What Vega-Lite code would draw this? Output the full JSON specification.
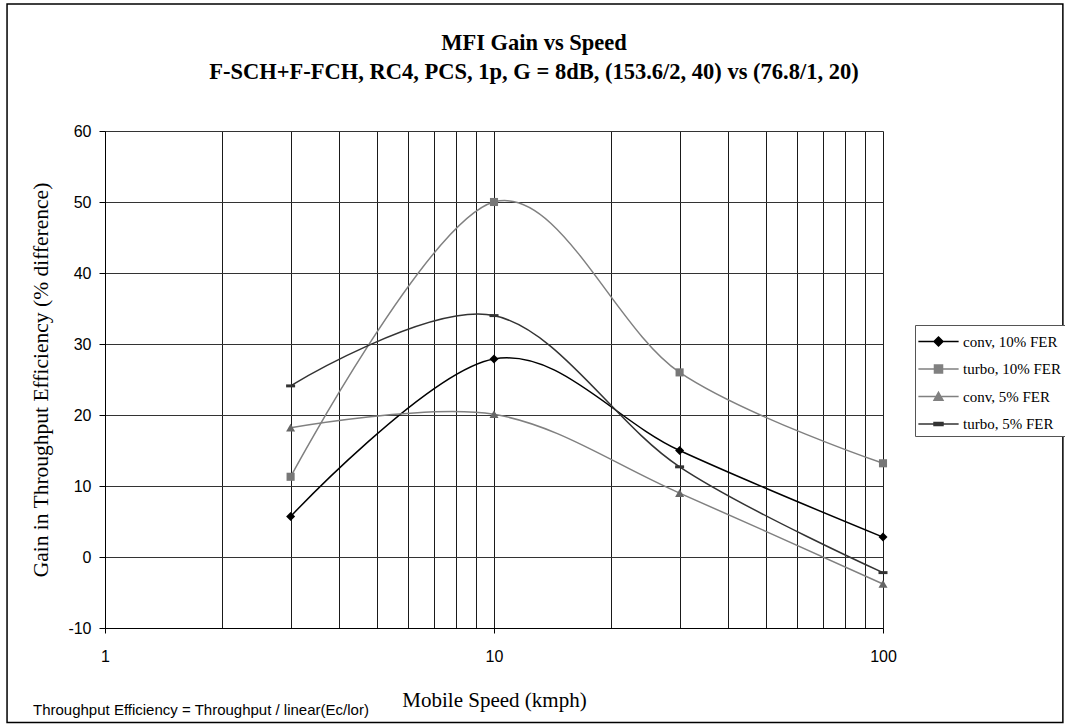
{
  "$schema": "https://vega.github.io/schema/vega-lite/v6.json",
  "width": 778,
  "height": 497,
  "autosize": "none",
  "padding": {"left": 105, "top": 131, "right": 182, "bottom": 97},
  "background": "white",
  "title": {
    "text": ["MFI Gain vs Speed", "F-SCH+F-FCH, RC4, PCS, 1p, G = 8dB, (153.6/2, 40) vs (76.8/1, 20)"],
    "font": "Liberation Serif",
    "fontSize": 22.5,
    "fontWeight": "bold",
    "color": "black",
    "anchor": "middle",
    "frame": "group",
    "dx": 40,
    "offset": -80,
    "lineHeight": 29
  },
  "config": {
    "view": {"stroke": null},
    "font": "Liberation Sans"
  },
  "datasets": {
    "curves": [
      {"speed": 3, "gain": 5.7, "series": "conv, 10% FER"},
      {"speed": 10, "gain": 27.9, "series": "conv, 10% FER"},
      {"speed": 30, "gain": 15.0, "series": "conv, 10% FER"},
      {"speed": 100, "gain": 2.8, "series": "conv, 10% FER"},
      {"speed": 3, "gain": 11.3, "series": "turbo, 10% FER"},
      {"speed": 10, "gain": 50.0, "series": "turbo, 10% FER"},
      {"speed": 30, "gain": 26.0, "series": "turbo, 10% FER"},
      {"speed": 100, "gain": 13.2, "series": "turbo, 10% FER"},
      {"speed": 3, "gain": 18.2, "series": "conv, 5% FER"},
      {"speed": 10, "gain": 20.1, "series": "conv, 5% FER"},
      {"speed": 30, "gain": 9.0, "series": "conv, 5% FER"},
      {"speed": 100, "gain": -3.8, "series": "conv, 5% FER"},
      {"speed": 3, "gain": 24.1, "series": "turbo, 5% FER"},
      {"speed": 10, "gain": 34.0, "series": "turbo, 5% FER"},
      {"speed": 30, "gain": 12.7, "series": "turbo, 5% FER"},
      {"speed": 100, "gain": -2.2, "series": "turbo, 5% FER"}
    ],
    "note": [
      {"text": "Throughput Efficiency = Throughput / linear(Ec/lor)", "x": 0.653, "y": -21.6}
    ],
    "frame": [
      {"x1": 0.56, "x2": 290, "y1": -23.3, "y2": 77.9}
    ]
  },
  "layer": [
    {
      "data": {"name": "frame"},
      "mark": {"type": "rect", "fill": null, "stroke": "black", "strokeWidth": 1.5},
      "encoding": {
        "x": {"field": "x1", "type": "quantitative"},
        "x2": {"field": "x2"},
        "y": {"field": "y1", "type": "quantitative"},
        "y2": {"field": "y2"}
      }
    },
    {
      "data": {"name": "curves"},
      "mark": {"type": "line", "interpolate": "cardinal", "tension": 0, "strokeWidth": 1.5},
      "encoding": {
        "x": {
          "field": "speed",
          "type": "quantitative",
          "scale": {"type": "log", "domain": [1, 100], "nice": false},
          "axis": {
            "values": [1, 2, 3, 4, 5, 6, 7, 8, 9, 10, 20, 30, 40, 50, 60, 70, 80, 90, 100],
            "labelExpr": "(datum.value == 1 || datum.value == 10 || datum.value == 100) ? datum.label : ''",
            "format": "d",
            "grid": true,
            "gridColor": "#1a1a1a",
            "gridOpacity": 1,
            "domainColor": "black",
            "tickColor": "black",
            "tickSize": 5,
            "tickOpacity": {"condition": {"test": "datum.value == 1 || datum.value == 10 || datum.value == 100", "value": 1}, "value": 0},
            "labelFont": "Liberation Sans",
            "labelFontSize": 16,
            "labelColor": "black",
            "labelPadding": 15,
            "labelFlush": false,
            "labelOverlap": false,
            "labelBound": false,
            "title": "Mobile Speed (kmph)",
            "titleFont": "Liberation Serif",
            "titleFontSize": 21,
            "titleFontWeight": "normal",
            "titleColor": "black",
            "titlePadding": 25
          }
        },
        "y": {
          "field": "gain",
          "type": "quantitative",
          "scale": {"domain": [-10, 60], "nice": false, "zero": false},
          "axis": {
            "values": [-10, 0, 10, 20, 30, 40, 50, 60],
            "labelExpr": "'' + datum.value",
            "grid": true,
            "gridColor": "#333333",
            "gridOpacity": 1,
            "domainColor": "black",
            "tickColor": "black",
            "tickSize": 6,
            "labelFont": "Liberation Sans",
            "labelFontSize": 16,
            "labelColor": "black",
            "labelPadding": 8,
            "labelFlush": false,
            "title": "Gain in Throughput Efficiency (% difference)",
            "titleFont": "Liberation Serif",
            "titleFontSize": 21.5,
            "titleFontWeight": "normal",
            "titleColor": "black",
            "titlePadding": 15
          }
        },
        "color": {
          "field": "series",
          "type": "nominal",
          "scale": {
            "domain": ["conv, 10% FER", "turbo, 10% FER", "conv, 5% FER", "turbo, 5% FER"],
            "range": ["#000000", "#808080", "#808080", "#333333"]
          },
          "legend": {
            "title": null,
            "orient": "none",
            "legendX": 810,
            "legendY": 194,
            "padding": 4,
            "rowPadding": 6.5,
            "symbolOffset": 7,
            "strokeColor": "#555555",
            "fillColor": "white",
            "symbolSize": 529,
            "symbolType": "stroke",
            "labelFont": "Liberation Serif",
            "labelFontSize": 15,
            "labelColor": "black",
            "labelOffset": 12,
            "encode": {
              "symbols": {
                "update": {
                  "shape": {"signal": "datum.value == 'conv, 10% FER' ? 'M-1.75,0L1.75,0M0,-0.39L0.39,0L0,0.39L-0.39,0Z' : datum.value == 'turbo, 10% FER' ? 'M-1.75,0L1.75,0M-0.35,-0.35L0.35,-0.35L0.35,0.35L-0.35,0.35Z' : datum.value == 'conv, 5% FER' ? 'M-1.75,0L1.75,0M0,-0.37L0.39,0.33L-0.39,0.33Z' : 'M-1.75,0L1.75,0M-0.39,-0.13L0.39,-0.13L0.39,0.13L-0.39,0.13Z'"},
                  "size": {"value": 529},
                  "fill": {"signal": "scale('color', datum.value)"},
                  "stroke": {"signal": "scale('color', datum.value)"},
                  "strokeWidth": {"value": 1.5},
                  "opacity": {"value": 1},
                  "fillOpacity": {"value": 1}
                }
              }
            }
          }
        }
      }
    },
    {
      "data": {"name": "curves"},
      "transform": [{"filter": "datum.series == 'conv, 10% FER'"}],
      "mark": {"type": "point", "filled": true, "opacity": 1, "size": 81, "strokeWidth": 0, "color": "#000000", "shape": "M0,-1L1,0L0,1L-1,0Z"},
      "encoding": {
        "x": {"field": "speed", "type": "quantitative"},
        "y": {"field": "gain", "type": "quantitative"}
      }
    },
    {
      "data": {"name": "curves"},
      "transform": [{"filter": "datum.series == 'turbo, 10% FER'"}],
      "mark": {"type": "point", "filled": true, "opacity": 1, "size": 81, "strokeWidth": 0, "color": "#777777", "shape": "M-0.9,-0.9L0.9,-0.9L0.9,0.9L-0.9,0.9Z"},
      "encoding": {
        "x": {"field": "speed", "type": "quantitative"},
        "y": {"field": "gain", "type": "quantitative"}
      }
    },
    {
      "data": {"name": "curves"},
      "transform": [{"filter": "datum.series == 'conv, 5% FER'"}],
      "mark": {"type": "point", "filled": true, "opacity": 1, "size": 81, "strokeWidth": 0, "color": "#666666", "shape": "M0,-0.9L1,0.85L-1,0.85Z"},
      "encoding": {
        "x": {"field": "speed", "type": "quantitative"},
        "y": {"field": "gain", "type": "quantitative"}
      }
    },
    {
      "data": {"name": "curves"},
      "transform": [{"filter": "datum.series == 'turbo, 5% FER'"}],
      "mark": {"type": "point", "filled": true, "opacity": 1, "size": 81, "strokeWidth": 0, "color": "#333333", "shape": "M-1,-0.33L1,-0.33L1,0.33L-1,0.33Z"},
      "encoding": {
        "x": {"field": "speed", "type": "quantitative"},
        "y": {"field": "gain", "type": "quantitative"}
      }
    },
    {
      "data": {"name": "note"},
      "mark": {"type": "text", "align": "left", "baseline": "middle", "font": "Liberation Sans", "fontSize": 15, "color": "black"},
      "encoding": {
        "x": {"field": "x", "type": "quantitative"},
        "y": {"field": "y", "type": "quantitative"},
        "text": {"field": "text"}
      }
    }
  ]
}
